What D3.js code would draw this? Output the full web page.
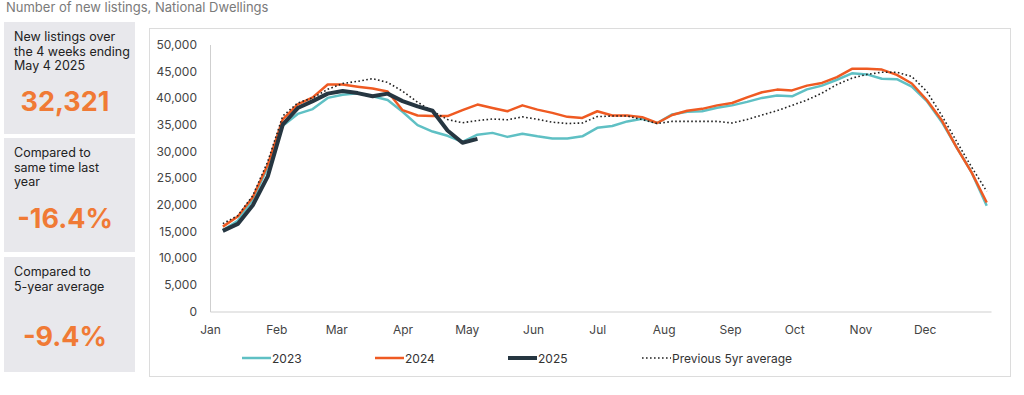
<!DOCTYPE html>
<html>
<head>
<meta charset="utf-8">
<script src="https://cdn.jsdelivr.net/npm/d3@7"></script>
<style>
  body { margin: 0; background: #fff; }
  svg { display: block; font-family: "Inter", "Noto Sans", sans-serif; }
</style>
</head>
<body>
<svg width="1024" height="395"></svg>
<script>
// weekly new listings, week index 0 = first week of January
const firstWeekEnding = new Date(2025, 0, 7)
const monthTicks = ["Jan","Feb","Mar","Apr","May","Jun","Jul","Aug","Sep","Oct","Nov","Dec"]
const yTicks = [0, 5000, 10000, 15000, 20000, 25000, 30000, 35000, 40000, 45000, 50000]

const s2023 = [15200, 17000, 21000, 27000, 34800, 37000, 37900, 40000, 40600, 40850,
  40300, 39600, 37400, 34900, 33700, 32900, 31750, 33100, 33450, 32700,
  33300, 32800, 32400, 32400, 32800, 34400, 34750, 35600, 36100, 35300,
  36900, 37400, 37500, 38150, 38600, 39250, 40000, 40450, 40300, 41600,
  42300, 43400, 44600, 44400, 43600, 43500, 42100, 39400, 35500, 30700,
  26000, 19800]
const s2024 = [15900, 17800, 21400, 27500, 36000, 38800, 40100, 42500, 42500, 42100,
  41750, 41200, 37700, 36700, 36600, 36600, 37700, 38750, 38100, 37500,
  38600, 37800, 37200, 36450, 36250, 37500, 36700, 36700, 36400, 35300,
  36800, 37600, 37950, 38600, 39050, 40100, 41050, 41550, 41400, 42300,
  42800, 43900, 45450, 45450, 45300, 44300, 42700, 39600, 35800, 30700,
  26000, 20400]
const s2025 = [15100, 16400, 19900, 25300, 35000, 38100, 39400, 40800, 41300, 40900,
  40300, 40800, 39400, 38400, 37600, 33900, 31600, 32321]
const avg5 = [16450, 17950, 21700, 28100, 36600, 39050, 40000, 41600, 42700, 43100,
  43600, 42900, 41250, 39200, 37500, 35950, 35350, 35750, 36050, 35900,
  36450, 36000, 35450, 35200, 35300, 36500, 36600, 36600, 35950, 35200,
  35600, 35600, 35600, 35600, 35300, 35950, 36800, 37600, 38600, 39600,
  40900, 42500, 43700, 44400, 44800, 44800, 44000, 41200, 36700, 31800,
  27000, 22500]

const seriesNames = ["2023", "2024", "2025", "Previous 5yr average"]
const seriesColors = ["#5fc0c4", "#ef5a22", "#263641", "#222"]

const panelHeads = [
  ["New listings over", "the 4 weeks ending", "May 4 2025"],
  ["Compared to", "same time last", "year"],
  ["Compared to", "5-year average"]
]
const panelValues = ["32,321", "-16.4%", "-9.4%"]

const svg = d3.select("svg")

svg.append("text")
  .attr("x", 6).attr("y", 12)
  .attr("fill", "#7a7a7a")
  .attr("font-size", 13)
  .text("Number of new listings, National Dwellings")

// left stat panels
const panelTops = [22, 138, 257]
const panelHeights = [112, 114, 115]
const valueY = [111, 228, 346]
panelHeads.forEach((lines, p) => {
  let g = svg.append("g")
  g.append("rect")
    .attr("x", 4).attr("y", panelTops[p])
    .attr("width", 131).attr("height", panelHeights[p])
    .attr("fill", "#e8e8ec")
  lines.forEach((l, k) => {
    g.append("text")
      .attr("x", 14).attr("y", panelTops[p] + 19 + k * 14.5)
      .attr("font-size", 12.5)
      .attr("fill", "#222")
      .text(l)
  })
  g.append("text")
    .attr("x", 65).attr("y", valueY[p])
    .attr("text-anchor", "middle")
    .attr("font-size", 27)
    .attr("font-weight", 700)
    .attr("fill", "#f07a35")
    .text(panelValues[p])
})

// chart frame
svg.append("rect")
  .attr("x", 149.5).attr("y", 28.5)
  .attr("width", 861).attr("height", 348)
  .attr("fill", "#fff")
  .attr("stroke", "#dcdcdc")

const x = d3.scaleTime()
  .domain([new Date(2025, 0, 1), new Date(2026, 0, 1)])
  .range([210, 991])
const y = d3.scaleLinear()
  .domain([0, 50000])
  .range([311.5, 44.5])

const weekDate = i => d3.timeDay.offset(firstWeekEnding, 7 * i)

// axes
const yAxis = svg.append("g")
  .attr("transform", "translate(210,0)")
  .call(d3.axisLeft(y).tickValues(yTicks).tickFormat(d3.format(",")).tickSize(0).tickPadding(13))
yAxis.select(".domain").attr("stroke", "#cfcfcf")
yAxis.selectAll("text").attr("font-size", 12).attr("fill", "#444").attr("font-family", "Inter, sans-serif")

const xAxis = svg.append("g")
  .attr("transform", "translate(0,311.5)")
  .call(d3.axisBottom(x).ticks(d3.timeMonth.every(1))
    .tickFormat((d, i) => monthTicks[i]).tickSize(0).tickPadding(14))
xAxis.select(".domain").attr("stroke", "#cfcfcf")
xAxis.selectAll("text").attr("font-size", 12).attr("fill", "#444").attr("font-family", "Inter, sans-serif")

const line = d3.line()
  .x((d, i) => x(weekDate(i)))
  .y(d => y(d))

const drawOrder = [
  { data: s2023, idx: 0, w: 2.5 },
  { data: s2024, idx: 1, w: 2.5 },
  { data: avg5, idx: 3, w: 1.6, dash: "1.6,2.4" },
  { data: s2025, idx: 2, w: 4 }
]
drawOrder.forEach(s => {
  svg.append("path")
    .datum(s.data)
    .attr("d", line)
    .attr("fill", "none")
    .attr("stroke", seriesColors[s.idx])
    .attr("stroke-width", s.w)
    .attr("stroke-linejoin", "round")
    .attr("stroke-dasharray", s.dash || null)
})

// legend
const legendX = [242, 375, 508, 642]
const legend = svg.append("g")
seriesNames.forEach((name, i) => {
  legend.append("line")
    .attr("x1", legendX[i]).attr("x2", legendX[i] + 29)
    .attr("y1", 358).attr("y2", 358)
    .attr("stroke", seriesColors[i])
    .attr("stroke-width", i == 2 ? 4 : (i == 3 ? 1.6 : 2.5))
    .attr("stroke-dasharray", i == 3 ? "1.6,2.4" : null)
  legend.append("text")
    .attr("x", legendX[i] + 30).attr("y", 362.5)
    .attr("font-size", 12)
    .attr("fill", "#333")
    .text(name)
})
</script>
</body>
</html>
